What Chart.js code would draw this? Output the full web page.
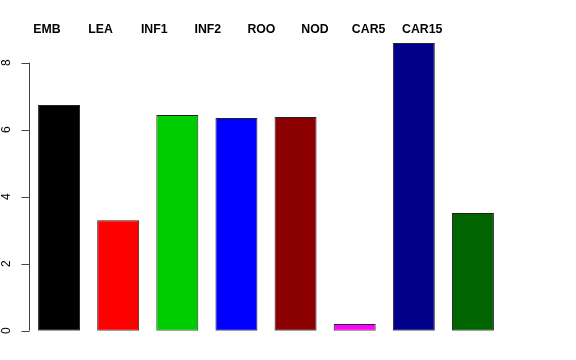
<!DOCTYPE html>
<html>
<head>
<meta charset="utf-8">
<script src="https://cdn.jsdelivr.net/npm/chart.js@4"></script>
<style>
  html, body { margin: 0; padding: 0; background: #fff; }
  #wrap { width: 576px; height: 360px; }
</style>
</head>
<body>
<div id="wrap"><canvas id="chart"></canvas></div>
<script>
// data
const categories = ['EMB', 'LEA', 'INF1', 'INF2', 'ROO', 'NOD', 'CAR5', 'CAR15'];
const values = [6.74, 3.30, 6.44, 6.35, 6.38, 0.20, 8.59, 3.51];
const barColors = ['#000000', '#FF0000', '#00CD00', '#0000FF', '#8B0000', '#FF00FF', '#00008B', '#006400'];
const yTicks = [0, 2, 4, 6, 8];

// R-style left axis: line only between first and last tick, rotated labels
const rAxis = {
    id: 'rAxis',
    afterDraw(chart) {
        const ctx = chart.ctx;
        const y = chart.scales.y;
        const x0 = 29.5;
        ctx.save();
        ctx.strokeStyle = '#444';
        ctx.lineWidth = 1;
        ctx.beginPath();
        ctx.moveTo(x0, y.getPixelForValue(yTicks[0]));
        ctx.lineTo(x0, y.getPixelForValue(yTicks[yTicks.length - 1]));
        yTicks.forEach(t => {
            const py = Math.round(y.getPixelForValue(t)) + 0.5;
            ctx.moveTo(x0, py);
            ctx.lineTo(x0 - 8, py);
        });
        ctx.stroke();
        ctx.fillStyle = '#000';
        ctx.font = '12px "Liberation Sans", Arial, sans-serif';
        ctx.textAlign = 'center';
        ctx.textBaseline = 'middle';
        yTicks.forEach(t => {
            ctx.save();
            ctx.translate(7, y.getPixelForValue(t));
            ctx.rotate(-Math.PI / 2);
            ctx.fillText(String(t), 0, 0);
            ctx.restore();
        });
        ctx.restore();
    }
};

new Chart(document.getElementById('chart'), {
    type: 'bar',
    data: {
        labels: categories,
        datasets: [{
            data: values,
            backgroundColor: barColors,
            borderColor: '#222',
            borderWidth: 1,
            borderSkipped: false,
            barPercentage: 0.71,
            categoryPercentage: 1
        }]
    },
    options: {
        responsive: true,
        maintainAspectRatio: false,
        animation: false,
        layout: { padding: { left: 29.5, right: 73.5, top: 0, bottom: 29.3 } },
        plugins: { legend: { display: false }, tooltip: { enabled: false } },
        scales: {
            x: { display: false, offset: true },
            x2: {
                type: 'linear',
                position: 'top',
                offset: false,
                min: -0.3265,
                max: 8.498,
                grid: { display: false, drawTicks: false, offset: false },
                border: { display: false },
                afterBuildTicks: s => { s.ticks = categories.map((c, i) => ({ value: i })); },
                afterFit: s => { s.height = 42.6; },
                ticks: {
                    autoSkip: false,
                    padding: 6,
                    maxRotation: 0,
                    color: '#000',
                    font: { family: '"Liberation Sans", Arial, sans-serif', size: 12.3, weight: 'bold' },
                    callback: v => categories[v]
                }
            },
            y: { display: false, min: 0, max: 8.6 }
        }
    },
    plugins: [rAxis]
});
</script>
</body>
</html>
